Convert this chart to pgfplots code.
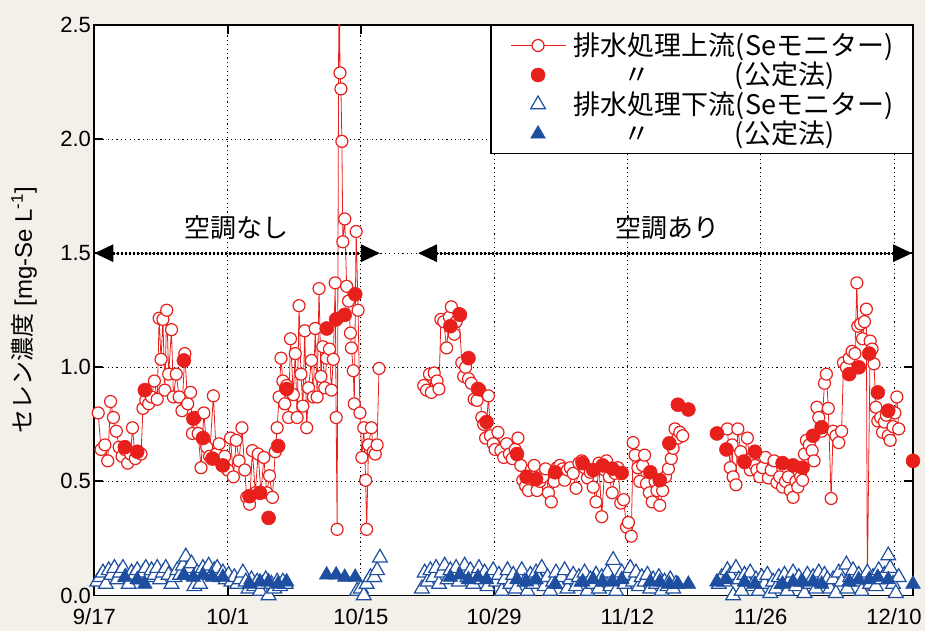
\documentclass[border=0pt]{standalone}
\usepackage{fontspec}
\setmainfont{Liberation Sans}
\newfontfamily\jp{Noto Sans CJK JP}
\usepackage{pgfplots}
\pgfplotsset{compat=1.18}
\usetikzlibrary{arrows.meta}
\definecolor{bg}{RGB}{243,239,233}
\definecolor{sered}{RGB}{232,32,28}
\definecolor{seblue}{RGB}{30,78,160}
\pgfplotsset{myleg/.style={legend image code/.code={\path[draw=none,fill=none] (0bp,-7bp) rectangle (55bp,7bp); \draw[mark repeat=2,mark phase=2,##1] plot coordinates {(0bp,0bp) (27.5bp,0bp) (55bp,0bp)};}}}
\begin{document}
\begin{tikzpicture}
\path[fill=bg, use as bounding box] (-94.4bp,-35.5bp) rectangle (830.6bp,595.5bp);
\begin{axis}[
 at={(0,0)}, anchor=south west,
 scale only axis, width=818.6bp, height=570.5bp,
 xmin=0, xmax=86, ymin=0, ymax=2.5,
 axis background/.style={fill=white},
 xtick={0,14,28,42,56,70,84},
 xticklabels={9/17,10/1,10/15,10/29,11/12,11/26,12/10},
 ytick={0,0.5,1,1.5,2,2.5},
 yticklabel style={/pgf/number format/fixed, /pgf/number format/fixed zerofill, /pgf/number format/precision=1},
 xticklabel style={yshift=-10bp},
 /pgf/number format/assume math mode=true,
 tick label style={font=\fontsize{22bp}{26bp}\selectfont},
 ylabel={{\jp セレン濃度} [mg-Se L\textsuperscript{-1}]},
 every axis y label/.style={at={(axis description cs:-0.086,0.5)}, rotate=90, anchor=center, font=\fontsize{24bp}{28bp}\selectfont},
 grid=major,
 major grid style={black, line width=0.9bp, dash pattern=on 1.2bp off 3.2bp},
 axis line style={line width=1.8bp},
 major tick length=9bp,
 tick style={black, line width=1.8bp},
 unbounded coords=jump,
 legend cell align=left,
 legend style={at={(1,1)}, anchor=north east, draw=black, line width=1.5bp, fill=white,
   font=\jp\fontsize{27bp}{30bp}\selectfont, inner xsep=19bp, inner ysep=5bp, row sep=0bp, column sep=8bp,
   nodes={inner xsep=0bp, inner ysep=0bp, text height=24.75bp, text depth=4.75bp, anchor=west}},
]
\addplot[sered, line width=0.8bp, mark=*, mark size=6bp, mark options={fill=white, draw=sered, line width=1.2bp, solid}, myleg] coordinates {
(0.4,0.80) (0.7,0.64) (1.1,0.66) (1.4,0.59) (1.7,0.85) (2.0,0.78) (2.3,0.72) (2.6,0.65) (2.9,0.61) (3.2,0.64) (3.5,0.58) (3.8,0.62) (4.0,0.735) (4.3,0.60) (4.6,0.63) (4.9,0.62) (5.1,0.82) (5.4,0.855) (5.7,0.84) (6.0,0.87) (6.3,0.94) (6.6,0.86) (6.8,1.215) (7.0,1.035) (7.2,1.21) (7.4,0.90) (7.6,1.25) (7.8,0.97) (8.1,1.165) (8.3,0.87) (8.6,0.97) (8.9,0.87) (9.2,0.81) (9.5,1.06) (9.8,0.84) (10.1,0.89) (10.3,0.71) (10.6,0.78) (10.9,0.71) (11.2,0.56) (11.5,0.80) (11.8,0.65) (12.1,0.61) (12.5,0.875) (12.8,0.62) (13.1,0.665) (13.4,0.57) (13.7,0.61) (14.0,0.55) (14.3,0.69) (14.6,0.52) (14.9,0.68) (15.2,0.59) (15.5,0.735) (15.8,0.55) (16.0,0.43) (16.3,0.40) (16.6,0.635) (16.9,0.45) (17.2,0.62) (17.5,0.45) (17.8,0.605) (18.1,0.45) (18.4,0.525) (18.7,0.43) (19.0,0.63) (19.2,0.735) (19.4,0.87) (19.6,1.04) (19.8,0.94) (20.0,0.84) (20.2,0.92) (20.4,0.78) (20.6,1.125) (20.9,0.88) (21.1,1.06) (21.3,0.78) (21.5,1.27) (21.7,0.97) (21.9,0.83) (22.1,1.16) (22.3,0.735) (22.5,0.91) (22.8,1.03) (23.0,0.87) (23.2,1.17) (23.4,0.87) (23.6,1.345) (23.8,0.96) (24.0,1.09) (24.2,0.91) (24.4,1.04) (24.7,1.08) (24.9,0.90) (25.1,1.035) (25.3,1.37) (25.4,0.78) (25.5,0.29) (25.7,2.9) (25.8,2.29) (25.9,2.22) (26.0,1.99) (26.1,1.55) (26.3,1.65) (26.5,1.355) (26.7,1.29) (26.9,1.15) (27.0,1.085) (27.2,0.985) (27.3,0.84) (27.5,1.595) (27.7,1.25) (27.9,0.80) (28.1,0.605) (28.3,0.735) (28.5,0.505) (28.6,0.29) (28.8,0.66) (29.1,0.735) (29.3,0.63) (29.5,0.62) (29.7,0.66) (29.9,0.995)
(32,nan)
(34.6,0.92) (34.9,0.90) (35.2,0.97) (35.4,0.89) (35.7,0.975) (36.0,0.94) (36.2,0.905) (36.4,1.21) (36.7,1.20) (37.0,1.085) (37.3,1.22) (37.5,1.265) (37.8,1.145) (38.0,1.20) (38.3,1.235) (38.6,1.02) (38.8,0.96) (39.0,1.00) (39.3,0.95) (39.6,0.93) (39.9,0.86) (40.2,0.855) (40.5,0.90) (40.7,0.78) (40.9,0.75) (41.1,0.69) (41.4,0.875) (41.6,0.70) (41.9,0.665) (42.1,0.64) (42.4,0.715) (42.7,0.635) (43.0,0.605) (43.3,0.665) (43.6,0.62) (43.9,0.60) (44.2,0.64) (44.5,0.69) (44.8,0.57) (45.0,0.505) (45.3,0.48) (45.6,0.46) (45.9,0.55) (46.2,0.57) (46.5,0.46) (46.8,0.50) (47.1,0.52) (47.4,0.555) (47.7,0.45) (48.0,0.41) (48.3,0.50) (48.6,0.56) (48.9,0.57) (49.2,0.555) (49.4,0.505) (49.7,0.55) (50.0,0.56) (50.3,0.535) (50.6,0.47) (50.9,0.58) (51.2,0.59) (51.5,0.56) (51.8,0.515) (52.1,0.54) (52.4,0.475) (52.7,0.41) (53.0,0.58) (53.3,0.345) (53.6,0.55) (53.8,0.59) (54.1,0.52) (54.4,0.45) (54.7,0.535) (55.0,0.56) (55.3,0.405) (55.6,0.42) (55.9,0.30) (56.1,0.32) (56.4,0.26) (56.6,0.67) (56.8,0.615) (57.1,0.56) (57.3,0.50) (57.6,0.57) (57.8,0.615) (58.0,0.49) (58.3,0.45) (58.6,0.41) (58.9,0.50) (59.1,0.46) (59.4,0.395) (59.7,0.46) (60.0,0.52) (60.3,0.555) (60.6,0.60) (60.8,0.645) (61.0,0.73) (61.3,0.69) (61.5,0.715) (61.8,0.70)
(64,nan)
(66.5,0.73) (66.8,0.56) (67.0,0.66) (67.1,0.52) (67.4,0.485) (67.6,0.73) (67.9,0.63) (68.2,0.59) (68.6,0.69) (68.9,0.55) (69.1,0.605) (69.4,0.57) (69.6,0.55) (69.9,0.52) (70.2,0.56) (70.5,0.605) (70.8,0.515) (71.1,0.55) (71.4,0.59) (71.7,0.495) (72.0,0.52) (72.3,0.475) (72.6,0.50) (72.9,0.52) (73.1,0.46) (73.4,0.43) (73.7,0.50) (73.9,0.475) (74.2,0.52) (74.4,0.505) (74.6,0.62) (74.8,0.68) (75.1,0.66) (75.4,0.635) (75.6,0.59) (75.9,0.825) (76.1,0.78) (76.4,0.72) (76.7,0.93) (76.9,0.97) (77.1,0.82) (77.4,0.425) (77.6,0.72) (77.9,0.70) (78.2,0.67) (78.5,0.72) (78.7,1.02) (79.0,1.00) (79.3,1.04) (79.6,1.07) (79.9,1.06) (80.1,1.37) (80.2,1.18) (80.5,1.19) (80.7,1.125) (80.9,1.20) (81.1,1.255) (81.2,0.05) (81.5,1.115) (81.7,1.08) (81.9,1.015) (82.1,0.825) (82.3,0.765) (82.6,0.78) (82.8,0.715) (83.0,0.76) (83.2,0.79) (83.4,0.70) (83.6,0.68) (83.9,0.74) (84.1,0.80) (84.3,0.87) (84.5,0.73)
};
\addlegendentry{排水処理上流(Seモニター)}
\addplot[only marks, mark=*, mark size=7bp, mark options={fill=sered, draw=sered, line width=0.5bp}, myleg] coordinates {
(3.2,0.65) (4.5,0.63) (5.3,0.90) (9.4,1.03) (10.4,0.775) (11.4,0.69) (12.4,0.60) (13.5,0.57) (16.3,0.435) (17.4,0.45) (18.3,0.34) (19.3,0.655) (20.2,0.905) (24.4,1.17) (25.4,1.21) (26.3,1.23) (27.4,1.32)
(37.4,1.18) (38.4,1.23) (39.3,1.04) (40.3,0.905) (41.2,0.76) (44.4,0.62) (45.4,0.52) (46.4,0.51) (48.4,0.54) (51.3,0.58) (52.4,0.55) (53.4,0.57) (54.4,0.556) (55.4,0.537) (58.4,0.54) (59.4,0.505) (60.4,0.667) (61.3,0.836) (62.4,0.815)
(65.4,0.71) (66.4,0.64) (68.3,0.585) (69.4,0.63) (72.3,0.58) (73.4,0.57) (74.4,0.56) (75.5,0.70) (76.4,0.737) (79.3,0.97) (80.3,1.00) (81.4,1.06) (82.3,0.89) (83.4,0.81) (86.0,0.59)
};
\addlegendentry{\hspace*{50bp}〃\hspace*{84bp}(公定法)}
\addplot[only marks, mark=triangle*, mark size=8.5bp, mark options={fill=white, draw=seblue, line width=1.2bp}, myleg] coordinates {
(0.3,0.06) (0.6,0.08) (0.9,0.10) (1.2,0.05) (1.5,0.11) (1.8,0.09) (2.1,0.12) (2.4,0.07) (2.7,0.10) (3.0,0.12) (3.3,0.08) (3.6,0.05) (3.9,0.10) (4.2,0.09) (4.5,0.11) (4.8,0.07) (5.1,0.10) (5.4,0.12) (5.7,0.08) (6.0,0.11) (6.3,0.09) (6.6,0.12) (6.9,0.07) (7.2,0.10) (7.5,0.12) (7.8,0.09) (8.1,0.05) (8.4,0.08) (8.7,0.11) (9.0,0.09) (9.3,0.13) (9.6,0.17) (9.9,0.12) (10.2,0.14) (10.5,0.04) (10.8,0.10) (11.1,0.05) (11.4,0.12) (11.7,0.10) (12.0,0.13) (12.3,0.09) (12.6,0.11) (12.9,0.12) (13.2,0.08) (13.5,0.10) (13.8,0.07) (14.1,0.09) (14.4,0.06) (14.7,0.08) (15.0,0.05) (15.3,0.07) (15.6,0.10) (15.9,0.06) (16.2,0.03) (16.5,0.07) (16.8,0.04) (17.1,0.06) (17.4,0.02) (17.7,0.05) (18.0,0.07) (18.3,0.00) (18.6,0.05) (18.9,0.03) (19.2,0.06) (19.5,0.04) (19.8,0.06) (20.1,0.05)
(27.6,0.02) (28.0,0.03) (28.3,0.00) (28.6,0.05) (29.0,0.08) (29.4,0.08) (29.7,0.11) (30.0,0.165)
(34.4,0.03) (34.7,0.10) (35.0,0.06) (35.3,0.11) (35.6,0.08) (35.9,0.12) (36.2,0.05) (36.5,0.10) (36.8,0.13) (37.1,0.07) (37.4,0.11) (37.7,0.09) (38.0,0.12) (38.3,0.06) (38.6,0.10) (38.9,0.13) (39.2,0.08) (39.5,0.11) (39.8,0.05) (40.1,0.09) (40.4,0.12) (40.7,0.07) (41.0,0.10) (41.3,0.04) (41.6,0.08) (41.9,0.11) (42.2,0.06) (42.5,0.09) (42.8,0.02) (43.1,0.07) (43.4,0.11) (43.7,0.05) (44.0,0.09) (44.3,0.03) (44.6,0.08) (44.9,0.11) (45.2,0.06) (45.5,0.02) (45.8,0.09) (46.1,0.05) (46.4,0.10) (46.7,0.07) (47.0,0.12) (47.3,0.04) (47.6,0.08) (47.9,0.02) (48.2,0.06) (48.5,0.10) (48.8,0.05) (49.1,0.08) (49.4,0.11) (49.7,0.03) (50.0,0.07) (50.3,0.09) (50.6,0.04) (50.9,0.08) (51.2,0.06) (51.5,0.10) (51.8,0.02) (52.1,0.07) (52.4,0.05) (52.7,0.09) (53.0,0.03) (53.3,0.08) (53.6,0.06) (53.9,0.10) (54.2,0.04) (54.5,0.155) (54.8,0.02) (55.1,0.07) (55.4,0.10) (55.7,0.05) (56.0,0.09) (56.3,0.12) (56.6,0.06) (56.9,0.10) (57.2,0.04) (57.5,0.08) (57.8,0.06) (58.1,0.09) (58.4,0.03) (58.7,0.07) (59.0,0.05) (59.3,0.08) (59.6,0.02) (59.9,0.06) (60.2,0.04) (60.5,0.07) (60.8,0.03) (61.1,0.05)
(65.6,0.05) (65.9,0.08) (66.2,0.06) (66.5,0.11) (66.8,0.09) (67.1,0.00) (67.4,0.12) (67.7,0.07) (68.0,0.02) (68.3,0.09) (68.6,0.06) (68.9,0.10) (69.2,0.04) (69.5,0.07) (69.8,0.02) (70.1,0.08) (70.4,0.05) (70.7,0.09) (71.0,0.01) (71.3,0.06) (71.6,0.03) (71.9,0.08) (72.2,0.05) (72.5,0.09) (72.8,0.02) (73.1,0.07) (73.4,0.10) (73.7,0.04) (74.0,0.08) (74.3,0.06) (74.6,0.01) (74.9,0.09) (75.2,0.05) (75.5,0.08) (75.8,0.03) (76.1,0.10) (76.4,0.06) (76.7,0.09) (77.0,0.07) (77.3,0.03) (77.6,0.07) (77.9,0.01) (78.2,0.10) (78.5,0.06) (79.0,0.135) (79.1,0.03) (79.4,0.08) (79.7,0.11) (80.0,0.06) (80.3,0.09) (80.6,0.02) (80.9,0.07) (81.2,0.10) (81.5,0.05) (81.8,0.08) (82.1,0.04) (82.4,0.11) (82.7,0.07) (83.0,0.09) (83.4,0.175) (83.6,0.12) (83.9,0.05) (84.2,0.01) (84.5,0.08)
};
\addlegendentry{排水処理下流(Seモニター)}
\addplot[only marks, mark=triangle*, mark size=8.5bp, mark options={fill=seblue, draw=seblue, line width=0.5bp}, myleg] coordinates {
(3.2,0.08) (4.5,0.07) (5.3,0.05) (9.4,0.09) (10.4,0.08) (11.4,0.09) (12.4,0.08) (13.5,0.08) (16.3,0.05) (17.4,0.06) (18.3,0.06) (19.3,0.05) (20.2,0.06) (24.4,0.09) (25.4,0.09) (26.3,0.08) (27.4,0.08)
(37.4,0.08) (38.4,0.09) (39.3,0.07) (40.3,0.08) (41.2,0.07) (44.4,0.07) (45.4,0.06) (46.4,0.07) (48.4,0.05) (51.3,0.06) (52.4,0.07) (53.4,0.06) (54.4,0.06) (55.4,0.07) (58.4,0.06) (59.4,0.06) (60.4,0.05) (61.3,0.05) (62.4,0.05)
(65.4,0.06) (66.4,0.07) (68.3,0.06) (69.4,0.05) (72.3,0.05) (73.4,0.06) (74.4,0.06) (75.5,0.06) (76.4,0.05) (79.3,0.06) (80.3,0.07) (81.4,0.07) (82.3,0.08) (83.4,0.07) (86.0,0.05)
};
\addlegendentry{\hspace*{50bp}〃\hspace*{84bp}(公定法)}
\draw[black, fill=black, line width=3bp, dash pattern=on 2.2bp off 1.8bp, {Triangle[length=19bp,width=17bp]}-{Triangle[length=19bp,width=17bp]}] (axis cs:0,1.5) -- (axis cs:30,1.5);
\draw[black, fill=black, line width=3bp, dash pattern=on 2.2bp off 1.8bp, {Triangle[length=19bp,width=17bp]}-{Triangle[length=19bp,width=17bp]}] (axis cs:34,1.5) -- (axis cs:85.9,1.5);
\node[font=\jp\fontsize{26bp}{30bp}\selectfont] at (axis cs:14.9,1.61) {空調なし};
\node[font=\jp\fontsize{26bp}{30bp}\selectfont] at (axis cs:60.2,1.61) {空調あり};
\end{axis}
\end{tikzpicture}
\end{document}
